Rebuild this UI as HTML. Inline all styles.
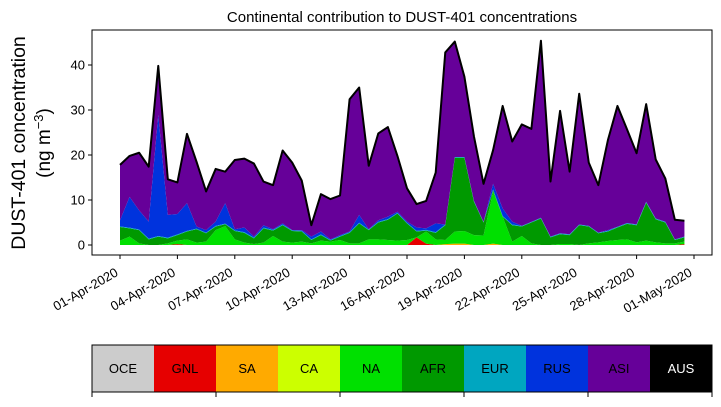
<!DOCTYPE html>
<html><head><meta charset="utf-8"><style>
body{margin:0;background:#fff;}
svg text{font-family:"Liberation Sans","DejaVu Sans",sans-serif;}
</style></head><body>
<svg id="chart" width="721" height="402" xmlns="http://www.w3.org/2000/svg">
<rect width="721" height="402" fill="#fff"/>
<g id="areas"></g>
<g id="axes"></g>
<text x="402" y="22" font-size="15" text-anchor="middle">Continental contribution to DUST-401 concentrations</text>
<text transform="translate(25,143) rotate(-90)" font-size="19.5" text-anchor="middle">DUST-401 concentration</text>
<text transform="translate(50,143) rotate(-90)" font-size="19" text-anchor="middle">(ng m<tspan dy="-7" font-size="13">−3</tspan><tspan dy="7">)</tspan></text>
<g id="legend"></g>
</svg>
<script>
// 12-hourly data from 01-Apr-2020 00:00; cumulative stack levels (ng m-3)
const regions = ["OCE","GNL","SA","CA","NA","AFR","EUR","RUS","ASI","AUS"];
const regionColors = ["#cccccc","#e60000","#ffaa00","#ccff00","#00e000","#009900","#00a6c0","#0033dd","#660099","#000000"];
const gnlVals = [0,0,0,0,0,0,0.2,0,0,0,0,0,0,0,0,0,0,0,0,0,0,0,0,0,0,0,0,0,0,0,0,1.7,0.3,0,0,0,0,0,0,0,0,0,0,0,0,0,0,0,0,0,0,0,0,0,0,0,0,0,0,0.2];
const saVals = [0,0,0,0,0,0,0,0,0,0,0,0,0,0,0,0,0,0,0,0,0,0,0,0,0,0,0,0,0,0,0,0,0,0,0.2,0.3,0.3,0,0,0.3,0,0,0,0,0,0,0,0,0,0,0,0,0,0,0,0,0,0,0,0];
const naTop = [0.96,1.85,0.37,0,0,0.37,0.96,1.26,0.52,0.74,3.3,4.2,1.26,0.52,0.22,0.52,2.0,0.74,0.52,0.74,0.37,0.96,0.74,1.1,0.37,0.37,1.26,1.26,1.1,0.96,1.1,1.26,3.0,1.26,1.1,3.0,3.1,2.2,2.1,11.9,6.3,0.74,2.0,0.37,0,0,0.22,0.22,0,0.37,0.59,0.89,1.1,1.26,0.59,0.96,0.59,0.37,0.37,0.74];
const afrTop = [4.0,3.7,3.3,1.26,1.85,1.48,2.2,3.0,3.5,2.6,4.1,4.6,3.1,2.7,1.48,3.7,3.2,4.4,3.1,3.0,1.1,2.2,0.96,1.85,2.7,4.8,3.3,5.0,5.6,7.0,4.8,3.0,3.2,2.7,4.4,19.4,19.4,9.6,5.0,12.2,6.3,4.4,4.1,5.0,5.9,1.7,2.4,2.2,4.4,4.1,2.6,3.0,3.9,4.7,4.4,9.4,5.7,5.0,1.1,1.7];
const rusTop = [5.5,10.7,7.7,5.2,28.9,6.7,6.9,9.3,4.1,3.3,5.2,9.3,3.5,3.9,1.85,4.4,3.5,4.8,3.3,3.3,1.85,3.0,1.26,2.2,3.0,6.7,3.5,5.5,6.3,7.4,5.2,3.9,3.7,4.8,4.4,19.5,19.5,9.8,4.8,13.6,8.1,5.2,4.1,5.0,5.9,1.85,2.6,2.4,4.4,4.2,2.6,3.3,3.9,4.9,4.6,9.6,5.9,5.2,1.26,1.85];
const totalTop = [17.8,19.8,20.5,17.4,39.8,14.6,13.9,24.7,18.5,11.9,16.9,16.3,18.9,19.2,18.1,14.1,13.3,21.0,18.3,14.3,4.4,11.3,10.2,11.0,32.4,35.0,17.6,24.8,26.2,19.8,12.6,9.1,9.8,16.1,42.8,45.2,37.4,24.1,13.6,21.1,30.9,23.0,26.8,25.8,45.4,14.1,29.8,16.3,33.6,18.3,13.3,23.3,30.9,25.7,20.4,31.3,19.0,14.8,5.6,5.4];
const yTicks = [0,10,20,30,40];
const xTickLabels = ["01-Apr-2020","04-Apr-2020","07-Apr-2020","10-Apr-2020","13-Apr-2020","16-Apr-2020","19-Apr-2020","22-Apr-2020","25-Apr-2020","28-Apr-2020","01-May-2020"];
const xTickDays = [0,3,6,9,12,15,18,21,24,27,30];

const NS="http://www.w3.org/2000/svg";
const L=92,R=712,T=30,B=255;
const xDay=d=>120+d*(574/30);
const xIdx=i=>xDay(i/2);
const y=v=>245-v*4.5;
function mk(tag,attrs,parent){const e=document.createElementNS(NS,tag);for(const k in attrs)e.setAttribute(k,attrs[k]);parent.appendChild(e);return e;}

const n=totalTop.length;
const zero=new Array(n).fill(0);
const gnlC=gnlVals.map(v=>v);
const saC=gnlC.map((v,i)=>v+saVals[i]);
const naC=naTop.map((v,i)=>Math.max(v,saC[i]));
const afrC=afrTop.map((v,i)=>Math.max(v,naC[i]));
const eurC=afrC.map((v,i)=>v+0.15);
const rusC=rusTop.map((v,i)=>Math.max(v,eurC[i]));
const asiC=totalTop.map((v,i)=>Math.max(v,rusC[i]));
const layers=[[zero,gnlC,1],[gnlC,saC,2],[saC,naC,4],[naC,afrC,5],[afrC,eurC,6],[eurC,rusC,7],[rusC,asiC,8]];
const ag=document.getElementById('areas');
layers.forEach(([lo,hi,ci])=>{
  let d='M'+hi.map((v,i)=>xIdx(i).toFixed(2)+','+y(v).toFixed(2)).join('L');
  for(let i=n-1;i>=0;i--)d+='L'+xIdx(i).toFixed(2)+','+y(lo[i]).toFixed(2);
  const p=mk('path',{d:d+'Z',fill:regionColors[ci]},ag);
  
  
});
const line=mk('polyline',{points:asiC.map((v,i)=>xIdx(i).toFixed(2)+','+y(v).toFixed(2)).join(' '),fill:'none',stroke:'#000','stroke-width':2,'stroke-linejoin':'round'},ag);



const ax=document.getElementById('axes');
const fr=mk('rect',{x:L,y:T,width:R-L,height:B-T,fill:'none',stroke:'#000','stroke-width':1},ax);


yTicks.forEach(t=>{
  mk('line',{x1:L-4,x2:L,y1:y(t),y2:y(t),stroke:'#000'},ax);
  const tx=mk('text',{x:L-7,y:y(t)+4.5,'font-size':13,'text-anchor':'end'},ax);
  tx.textContent=t;
  
  
});
xTickDays.forEach((d,k)=>{
  const x=xDay(d);
  mk('line',{x1:x,x2:x,y1:B,y2:B+4,stroke:'#000'},ax);
  const tx=mk('text',{transform:`translate(${x-1},${B+20}) rotate(-30)`,'font-size':13,'text-anchor':'end'},ax);
  tx.textContent=xTickLabels[k];
  
  
});

const lg=document.getElementById('legend');
const bw=62;
regions.forEach((r,i)=>{
  const rc=mk('rect',{x:92+i*bw,y:345,width:bw,height:47,fill:regionColors[i]},lg);
  
  
  const tx=mk('text',{x:92+i*bw+bw/2,y:373,'font-size':13,'text-anchor':'middle',fill:r==='AUS'?'#fff':'#000'},lg);
  tx.textContent=r;
  
  
});
mk('rect',{x:92,y:345,width:620,height:47,fill:'none',stroke:'#000'},lg);
for(let k=0;k<=5;k++)mk('line',{x1:92+k*124,x2:92+k*124,y1:392,y2:397,stroke:'#000'},lg);
</script>
</body></html>
